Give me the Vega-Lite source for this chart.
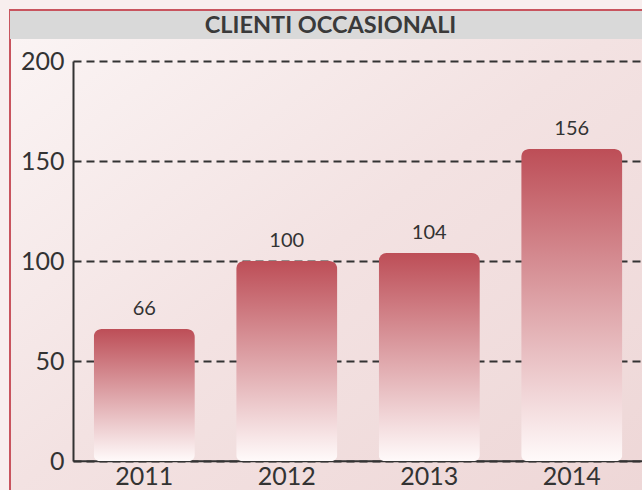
{
  "$schema": "https://vega.github.io/schema/vega-lite/v6.json",
  "width": 632,
  "height": 480,
  "autosize": {"type": "none"},
  "padding": {"left": 10, "top": 10, "right": 0, "bottom": 0},
  "background": "#f8eeee",
  "config": {
    "font": "Lato",
    "view": {
      "stroke": "#c8545e",
      "strokeWidth": 2,
      "strokeDash": [632, 1112, 480],
      "fill": {
        "gradient": "linear",
        "x1": 0, "y1": 0, "x2": 1, "y2": 1,
        "stops": [
          {"offset": 0, "color": "#fbf5f5"},
          {"offset": 0.5, "color": "#f3e2e2"},
          {"offset": 1, "color": "#eed7d7"}
        ]
      }
    }
  },
  "data": {
    "values": [
      {"anno": "2011", "clienti": 66},
      {"anno": "2012", "clienti": 100},
      {"anno": "2013", "clienti": 104},
      {"anno": "2014", "clienti": 156}
    ]
  },
  "layer": [
    {
      "mark": {
        "type": "bar",
        "cornerRadiusTopLeft": 8,
        "cornerRadiusTopRight": 8,
        "cornerRadiusBottomLeft": 6,
        "cornerRadiusBottomRight": 6,
        "color": {
          "gradient": "linear",
          "x1": 0, "y1": 0, "x2": 0, "y2": 1,
          "stops": [
            {"offset": 0, "color": "#bd4e57"},
            {"offset": 1, "color": "#fffafa"}
          ]
        }
      },
      "encoding": {
        "x": {
          "field": "anno",
          "type": "ordinal",
          "scale": {"range": [63, 633], "paddingInner": 0.29, "paddingOuter": 0.145},
          "axis": {
            "title": null,
            "offset": -29.3,
            "domainColor": "#333333",
            "domainWidth": 2,
            "ticks": false,
            "labelPadding": 4,
            "labelFontSize": 25,
            "labelColor": "#333333",
            "labelAngle": 0,
            "grid": false
          }
        },
        "y": {
          "field": "clienti",
          "type": "quantitative",
          "scale": {"domain": [0, 200], "range": [451, 51]},
          "axis": {
            "title": null,
            "values": [0, 50, 100, 150, 200],
            "offset": -63,
            "domainColor": "#333333",
            "domainWidth": 2,
            "ticks": false,
            "labelPadding": 9,
            "labelFontSize": 25,
            "labelColor": "#333333",
            "grid": true,
            "gridColor": "#333333",
            "gridDash": [8, 5],
            "gridWidth": 1.8
          }
        }
      }
    },
    {
      "mark": {"type": "text", "baseline": "alphabetic", "dy": -14, "fontSize": 20, "color": "#333333"},
      "encoding": {
        "x": {"field": "anno", "type": "ordinal"},
        "y": {"field": "clienti", "type": "quantitative"},
        "text": {"field": "clienti", "type": "quantitative"}
      }
    },
    {
      "data": {"values": [{"titolo": "CLIENTI OCCASIONALI"}]},
      "mark": {"type": "rect", "color": "#d9d9d9"},
      "encoding": {
        "y": {"datum": 225, "type": "quantitative", "title": null},
        "y2": {"datum": 211}
      }
    },
    {
      "data": {"values": [{"titolo": "CLIENTI OCCASIONALI"}]},
      "mark": {"type": "text", "baseline": "middle", "align": "center", "dx": 4.5, "dy": 1, "fontSize": 23.5, "fontWeight": "bold", "color": "#3a3a3a"},
      "encoding": {
        "y": {"datum": 218, "type": "quantitative", "title": null},
        "text": {"field": "titolo", "type": "nominal"}
      }
    }
  ]
}
